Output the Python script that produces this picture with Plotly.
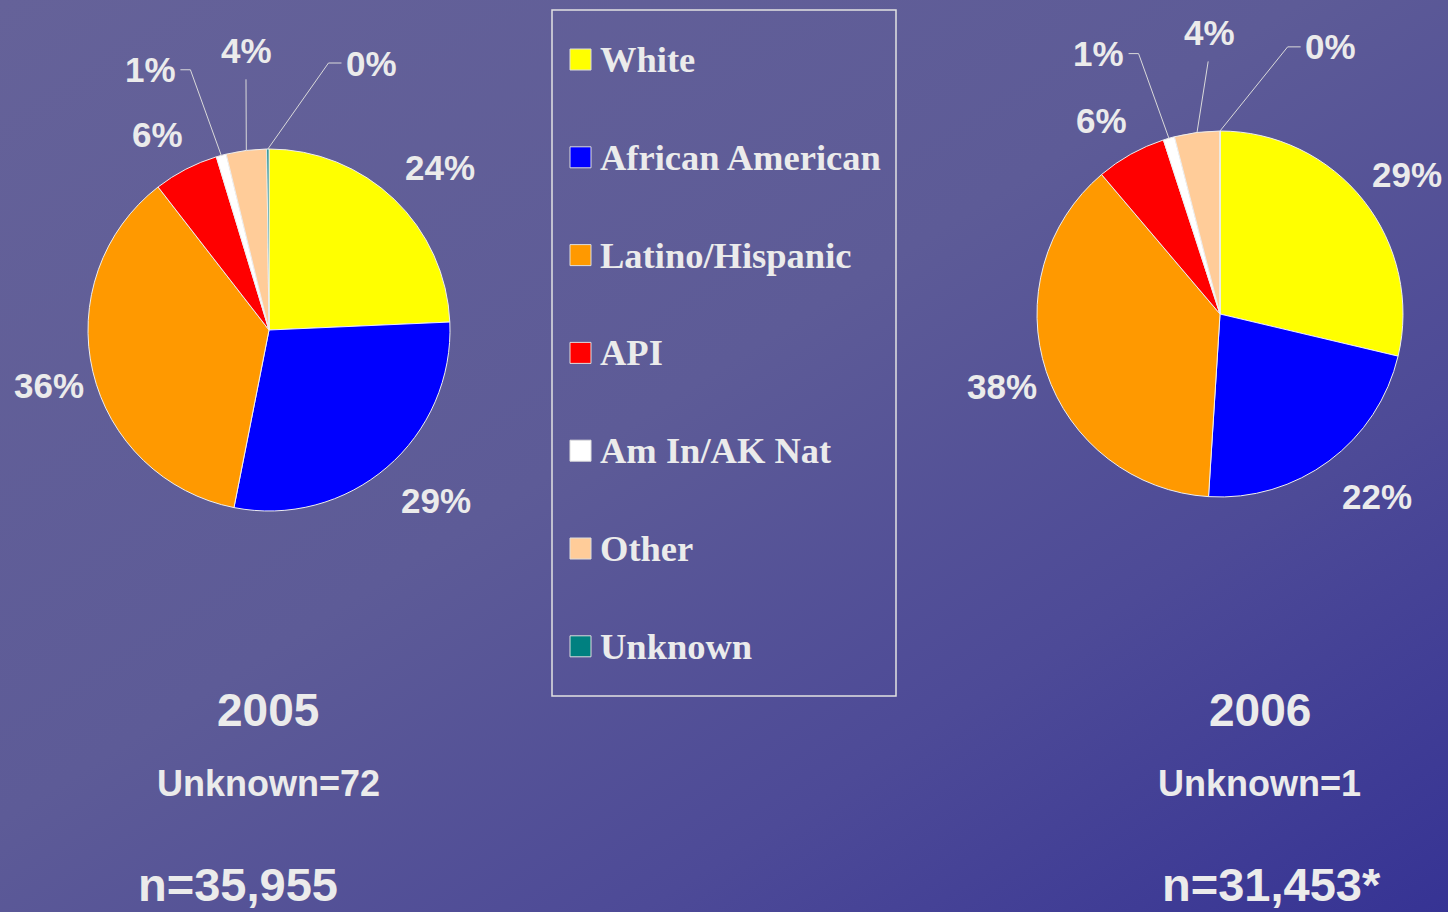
import math
import base64
import plotly.graph_objects as go

# ---------------- data ----------------
categories = ["White", "African American", "Latino/Hispanic", "API",
              "Am In/AK Nat", "Other", "Unknown"]
slice_colors = ["#FFFF00", "#0000FF", "#FF9900", "#FF0000", "#FFFFFF", "#FFCC99", "#008080"]
pct_2005 = [24.3, 28.8, 36.4, 5.8, 0.9, 3.6, 0.2]
pct_2006 = [28.7, 22.3, 37.8, 6.2, 1.0, 4.0, 0.003]
years = ["2005", "2006"]
unknown_text = ["Unknown=72", "Unknown=1"]
n_text = ["n=35,955", "n=31,453*"]

# ---------------- layout constants ----------------
W, H = 1448, 912
TXT = "#EBEBEB"
SANS = "Arial, Liberation Sans, sans-serif"
SERIF = "Times New Roman, Liberation Serif, serif"

pies = [
    dict(vals=pct_2005, cx=269, cy=330, r=181,
         nudge={0: (10, 6), 1: (15, -7), 2: (7, 2), 3: (-4, 12)},
         small={4: (335.5, 1.58, "right"), 5: (355.5, 1.55, "below"), 6: (21.0, 1.58, "left")},
         year_xy=(268, 710), unk_xy=(268, 783), n_xy=(238, 884)),
    dict(vals=pct_2006, cx=1220, cy=314, r=183,
         nudge={0: (2, 7), 1: (16, -7), 2: (6, -2), 3: (-3, 13)},
         small={4: (335.0, 1.57, "right"), 5: (357.8, 1.54, "below"), 6: (22.5, 1.58, "left")},
         year_xy=(1260, 710), unk_xy=(1259, 783), n_xy=(1271, 884)),
]


def px(x):
    return x / W


def py(y):
    return 1 - y / H


fig = go.Figure()
annotations = []
shapes = []

for k, p in enumerate(pies):
    cx, cy, r = p["cx"], p["cy"], p["r"]
    fig.add_trace(go.Pie(
        labels=categories, values=p["vals"], sort=False, direction="clockwise",
        rotation=0, textinfo="none", showlegend=False, hoverinfo="label+percent",
        marker=dict(colors=slice_colors, line=dict(color="#EEEEEE", width=1)),
        domain=dict(x=[px(cx - r), px(cx + r)], y=[py(cy + r), py(cy - r)]),
    ))
    total = sum(p["vals"])
    cum = 0.0
    for i, v in enumerate(p["vals"]):
        mid = (cum + v / 2) / total * 360.0
        cum += v
        label = f"{round(v / total * 100)}%"
        ex = cx + r * math.sin(math.radians(mid))
        ey = cy - r * math.cos(math.radians(mid))
        if i in p["small"]:
            ang, fac, side = p["small"][i]
            lx = cx + fac * r * math.sin(math.radians(ang))
            ly = cy - fac * r * math.cos(math.radians(ang))
            if side == "right":
                pts = [(lx + 30, ly), (lx + 40, ly), (ex, ey)]
            elif side == "left":
                pts = [(lx - 30, ly), (lx - 43, ly), (ex, ey)]
            else:
                pts = [(lx - 1, ly + 29), (ex, ey)]
            for a, b in zip(pts[:-1], pts[1:]):
                shapes.append(dict(type="line", xref="paper", yref="paper",
                                   x0=px(a[0]), y0=py(a[1]), x1=px(b[0]), y1=py(b[1]),
                                   line=dict(color="#DADADA", width=1)))
        else:
            dx, dy = p["nudge"].get(i, (0, 0))
            lx = cx + 1.29 * r * math.sin(math.radians(mid)) + dx
            ly = cy - 1.29 * r * math.cos(math.radians(mid)) + dy
        annotations.append(dict(x=px(lx), y=py(ly), xref="paper", yref="paper",
                                text=f"<b>{label}</b>", showarrow=False,
                                xanchor="center", yanchor="middle",
                                font=dict(family=SANS, size=35, color=TXT)))
    for txt, (x, y), size in [(years[k], p["year_xy"], 46),
                              (unknown_text[k], p["unk_xy"], 36),
                              (n_text[k], p["n_xy"], 47)]:
        annotations.append(dict(x=px(x), y=py(y), xref="paper", yref="paper",
                                text=f"<b>{txt}</b>", showarrow=False,
                                xanchor="center", yanchor="middle",
                                font=dict(family=SANS, size=size, color=TXT)))

# ---------------- legend (box with colour keys) ----------------
shapes.append(dict(type="rect", xref="paper", yref="paper",
                   x0=px(552), x1=px(896), y0=py(696), y1=py(10),
                   line=dict(color="#E2E2E2", width=1.5), fillcolor="rgba(0,0,0,0)"))
for i, (cat, col) in enumerate(zip(categories, slice_colors)):
    yc = 59.5 + i * 97.8
    shapes.append(dict(type="rect", xref="paper", yref="paper",
                       x0=px(570), x1=px(591), y0=py(yc + 10.5), y1=py(yc - 10.5),
                       line=dict(color="#DDDDDD", width=1), fillcolor=col))
    annotations.append(dict(x=px(598), y=py(yc), xref="paper", yref="paper",
                            text=f"<b>{cat}</b>", showarrow=False,
                            xanchor="left", yanchor="middle",
                            font=dict(family=SERIF, size=36.5, color=TXT)))

# ---------------- gradient background ----------------
svg = (f'<svg xmlns="http://www.w3.org/2000/svg" width="{W}" height="{H}" '
       f'viewBox="0 0 {W} {H}" preserveAspectRatio="none">'
       '<defs><linearGradient id="g" x1="0" y1="0" x2="1" y2="1">'
       '<stop offset="0" stop-color="#656299"/>'
       '<stop offset="0.45" stop-color="#5d5b97"/>'
       '<stop offset="0.72" stop-color="#4d4a97"/>'
       '<stop offset="1" stop-color="#363394"/>'
       '</linearGradient></defs>'
       f'<rect x="0" y="0" width="{W}" height="{H}" fill="url(#g)"/></svg>')
src = "data:image/svg+xml;base64," + base64.b64encode(svg.encode()).decode()

fig.update_layout(
    width=W, height=H, margin=dict(l=0, r=0, t=0, b=0),
    paper_bgcolor="#55529A", plot_bgcolor="rgba(0,0,0,0)",
    showlegend=False,
    images=[dict(source=src, xref="paper", yref="paper", x=0, y=1, sizex=1, sizey=1,
                 xanchor="left", yanchor="top", sizing="stretch", layer="below")],
    annotations=annotations, shapes=shapes,
)

fig.write_html(
    "out.html",
    config={"displayModeBar": False},
    post_script="document.body.style.margin='0';document.body.style.overflow='hidden';",
)
